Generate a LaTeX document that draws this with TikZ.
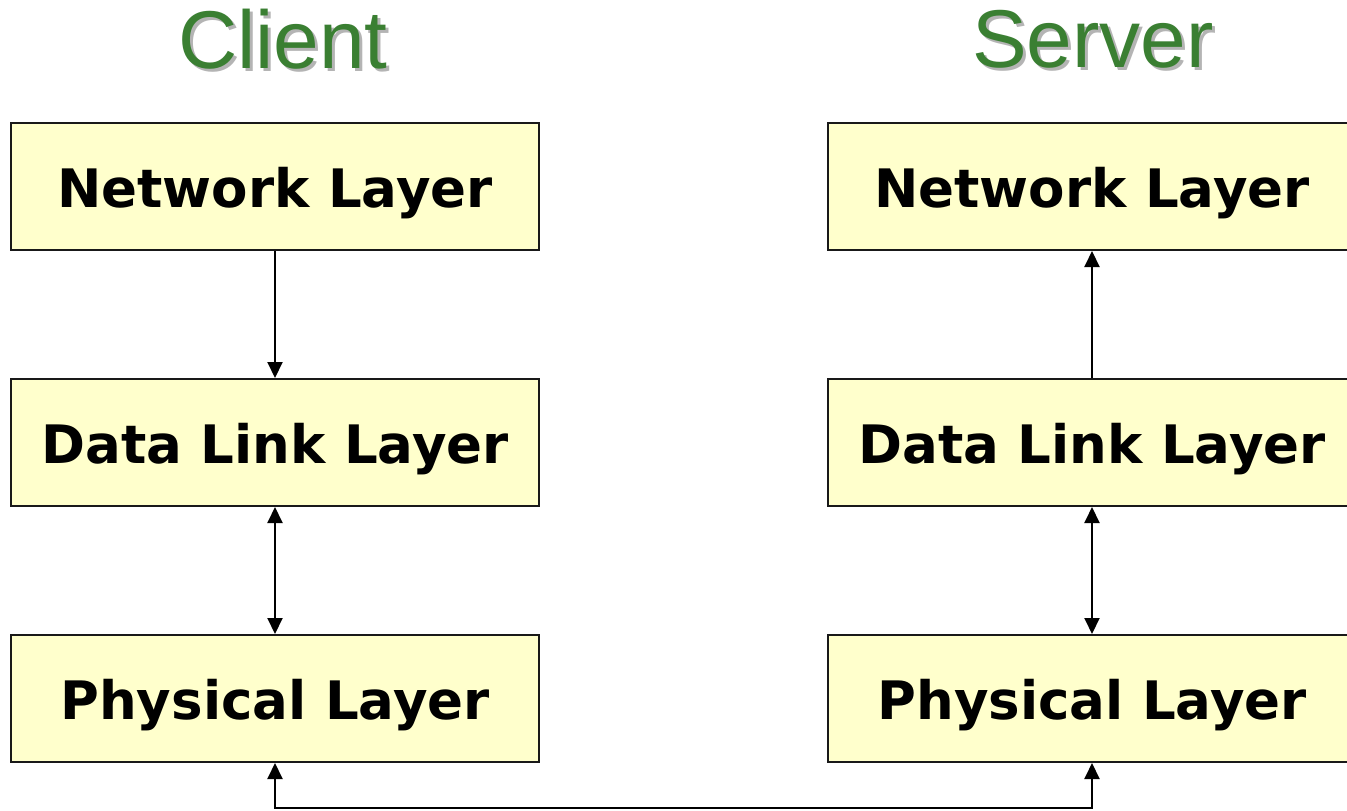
\documentclass[tikz,border=0pt]{standalone}
\usepackage{fontspec}
\setmainfont{Liberation Sans}
\newfontfamily\boxfont{DejaVu Sans}
\usetikzlibrary{arrows.meta}
\definecolor{boxfill}{HTML}{FFFFCC}
\definecolor{titlegreen}{HTML}{3A7F32}
\definecolor{shadowgray}{HTML}{B4B4B4}
\begin{document}
\begin{tikzpicture}[x=1pt,y=-1pt,
  layerbox/.style={draw=black!90, line width=2pt, fill=boxfill, minimum width=528pt, minimum height=127pt, inner sep=0pt,
    text height=41pt, text depth=0pt,
    font=\boxfont\fontsize{53}{60}\selectfont\bfseries},
  conn/.style={line width=2pt, -{Triangle[length=16pt,width=15pt]}},
  biconn/.style={line width=2pt, {Triangle[length=16pt,width=15pt]}-{Triangle[length=16pt,width=15pt]}},
  titletext/.style={font=\fontsize{82}{90}\selectfont, text=titlegreen},
  titleshadow/.style={font=\fontsize{82}{90}\selectfont, text=shadowgray}]
\useasboundingbox (0,0) rectangle (1347,811);
\fill[white] (0,0) rectangle (1347,811);
% titles
\node[titleshadow] at (286,42) {Client};
\node[titletext] (ct) at (283,39) {Client};
\node[titleshadow] at (1096,42) {Server};
\node[titletext] (st) at (1093,39) {Server};
% client stack
\node[layerbox] (cn) at (275,186.5) {Network Layer};
\node[layerbox] (cd) at (275,442.5) {Data Link Layer};
\node[layerbox] (cp) at (275,698.5) {Physical Layer};
% server stack
\node[layerbox] (sn) at (1092,186.5) {Network Layer};
\node[layerbox] (sd) at (1092,442.5) {Data Link Layer};
\node[layerbox] (sp) at (1092,698.5) {Physical Layer};
% connectors
\draw[conn] (cn.south) -- (cd.north);
\draw[biconn] (cd.south) -- (cp.north);
\draw[conn] (sd.north) -- (sn.south);
\draw[biconn] (sd.south) -- (sp.north);
\coordinate (bl) at (275,808);
\coordinate (br) at (1092,808);
\draw[biconn] (cp.south) -- (bl) -- (br) -- (sp.south);
\end{tikzpicture}
\end{document}
